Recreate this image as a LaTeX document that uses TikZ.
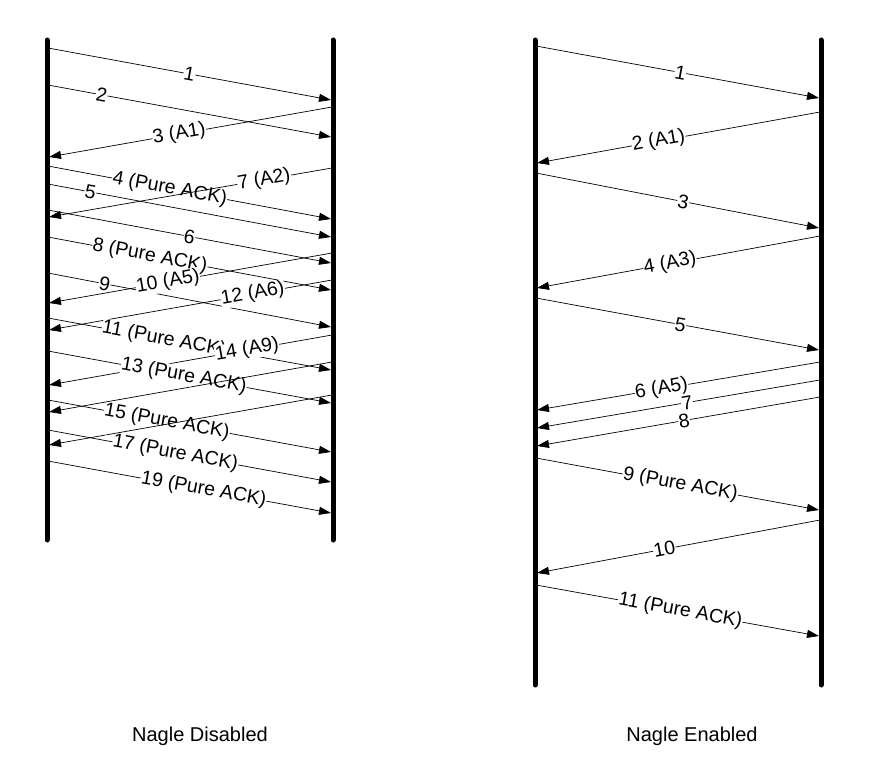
\documentclass[tikz,border=0pt]{standalone}
\usepackage{fontspec}
\setmainfont{Liberation Sans}
\usetikzlibrary{arrows.meta}
\begin{document}
\begin{tikzpicture}[x=1pt,y=-1pt,
  life/.style={line width=5pt,line cap=round},
  msg/.style={line width=0.7pt,-{Triangle[length=12pt,width=8pt]}},
  lab/.style={sloped,fill=white,inner sep=0.5pt,font=\fontsize{19.5}{19.5}\selectfont},
  captext/.style={font=\fontsize{20}{20}\selectfont}]
\useasboundingbox (0,0) rectangle (871,773);
% lifelines
\coordinate (l1t) at (47,40); \coordinate (l1b) at (47,540);
\coordinate (r1t) at (333,40); \coordinate (r1b) at (333,540);
\coordinate (l2t) at (535,40); \coordinate (l2b) at (535,685);
\coordinate (r2t) at (821,40); \coordinate (r2b) at (821,685);
\draw[life] (l1t) -- (l1b); \draw[life] (r1t) -- (r1b);
\draw[life] (l2t) -- (l2b); \draw[life] (r2t) -- (r2b);
% #1 name, #2 x1, #3 y1, #4 x2, #5 y2, #6 pos, #7 label
\newcommand\mymsg[7]{%
  \coordinate (#1s) at (#2,#3); \coordinate (#1e) at (#4,#5);
  \draw[msg] (#1s) -- node[lab,pos=#6] (#1l) {#7} (#1e);}
% Left: Nagle disabled
\mymsg{a1}{48}{48}{331}{100}{0.50}{1}
\mymsg{a2}{48}{85}{331}{137}{0.19}{2}
\mymsg{a3}{332}{107}{49}{157}{0.54}{3 (A1)}
\mymsg{a4}{48}{166}{331}{219}{0.43}{4 (Pure ACK)}
\mymsg{a5}{48}{184}{331}{237}{0.15}{5}
\mymsg{a7}{332}{168}{49}{217}{0.24}{7 (A2)}
\mymsg{a6}{48}{210}{331}{263}{0.50}{6}
\mymsg{a8}{48}{237}{331}{290}{0.36}{8 (Pure ACK)}
\mymsg{a9}{48}{273}{331}{327}{0.20}{9}
\mymsg{a10}{332}{253}{49}{303}{0.58}{10 (A5)}
\mymsg{a12}{332}{280}{49}{330}{0.28}{12 (A6)}
\mymsg{a11}{48}{318}{331}{370}{0.41}{11 (Pure ACK)}
\mymsg{a14}{332}{335}{49}{385}{0.30}{14 (A9)}
\mymsg{a13}{48}{351}{331}{403}{0.48}{13 (Pure ACK)}
\mymsg{a15}{48}{400}{331}{452}{0.42}{15 (Pure ACK)}
\mymsg{a16}{332}{362}{49}{412}{0.50}{}
\mymsg{a17}{48}{430}{331}{482}{0.45}{17 (Pure ACK)}
\mymsg{a18}{332}{395}{49}{445}{0.80}{}
\mymsg{a19}{48}{461}{331}{513}{0.55}{19 (Pure ACK)}
% Right: Nagle enabled
\mymsg{b1}{536}{46}{819}{98}{0.51}{1}
\mymsg{b2}{820}{112}{537}{163}{0.57}{2 (A1)}
\mymsg{b3}{536}{173}{819}{228}{0.52}{3}
\mymsg{b4}{820}{236}{537}{288}{0.53}{4 (A3)}
\mymsg{b5}{536}{298}{819}{350}{0.51}{5}
\mymsg{b6}{820}{362}{537}{410}{0.56}{6 (A5)}
\mymsg{b7}{820}{380}{537}{428}{0.47}{7}
\mymsg{b8}{820}{397}{537}{446}{0.48}{8}
\mymsg{b9}{536}{458}{819}{510}{0.51}{9 (Pure ACK)}
\mymsg{b10}{820}{520}{537}{573}{0.55}{10}
\mymsg{b11}{536}{585}{819}{636}{0.51}{11 (Pure ACK)}
\node[captext] (c1) at (200,736) {Nagle Disabled};
\node[captext] (c2) at (692,736) {Nagle Enabled};
\end{tikzpicture}
\end{document}
